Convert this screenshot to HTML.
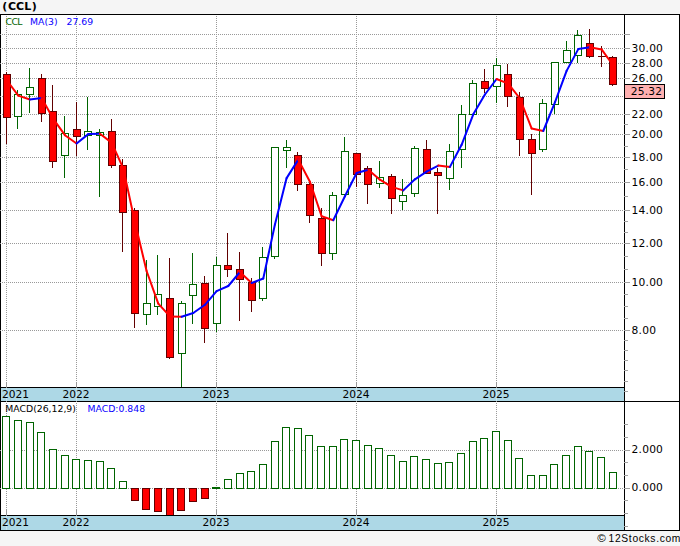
<!DOCTYPE html>
<html><head><meta charset="utf-8"><title>CCL</title><style>html,body{margin:0;padding:0;background:#f5f5f5}body{width:680px;height:546px;overflow:hidden}</style></head><body>
<svg width="680" height="546" viewBox="0 0 680 546" style="display:block">
<rect x="0" y="0" width="680" height="546" fill="#f5f5f5"/>
<g shape-rendering="crispEdges">
<rect x="0" y="14" width="680" height="517" fill="#000"/>
<rect x="1" y="15" width="678" height="515" fill="#fff"/>
<rect x="1" y="387" width="624" height="15" fill="#000"/>
<rect x="1" y="388" width="623" height="13" fill="#add8e6"/>
<rect x="1" y="401" width="678" height="1" fill="#000"/>
<rect x="1" y="515" width="624" height="15" fill="#000"/>
<rect x="1" y="516" width="623" height="14" fill="#add8e6"/>
<rect x="624" y="15" width="1" height="515" fill="#000"/>
<line x1="0" y1="34.5" x2="624" y2="34.5" stroke="#999" stroke-width="1" stroke-dasharray="1 1"/>
<line x1="0" y1="48.5" x2="624" y2="48.5" stroke="#999" stroke-width="1" stroke-dasharray="1 1"/>
<line x1="0" y1="63.5" x2="624" y2="63.5" stroke="#999" stroke-width="1" stroke-dasharray="1 1"/>
<line x1="0" y1="78.5" x2="624" y2="78.5" stroke="#999" stroke-width="1" stroke-dasharray="1 1"/>
<line x1="0" y1="96.5" x2="624" y2="96.5" stroke="#999" stroke-width="1" stroke-dasharray="1 1"/>
<line x1="0" y1="114.5" x2="624" y2="114.5" stroke="#999" stroke-width="1" stroke-dasharray="1 1"/>
<line x1="0" y1="134.5" x2="624" y2="134.5" stroke="#999" stroke-width="1" stroke-dasharray="1 1"/>
<line x1="0" y1="157.5" x2="624" y2="157.5" stroke="#999" stroke-width="1" stroke-dasharray="1 1"/>
<line x1="0" y1="182.5" x2="624" y2="182.5" stroke="#999" stroke-width="1" stroke-dasharray="1 1"/>
<line x1="0" y1="210.5" x2="624" y2="210.5" stroke="#999" stroke-width="1" stroke-dasharray="1 1"/>
<line x1="0" y1="243.5" x2="624" y2="243.5" stroke="#999" stroke-width="1" stroke-dasharray="1 1"/>
<line x1="0" y1="282.5" x2="624" y2="282.5" stroke="#999" stroke-width="1" stroke-dasharray="1 1"/>
<line x1="0" y1="330.5" x2="624" y2="330.5" stroke="#999" stroke-width="1" stroke-dasharray="1 1"/>
<line x1="0" y1="450.5" x2="624" y2="450.5" stroke="#999" stroke-width="1" stroke-dasharray="1 1"/>
<line x1="0" y1="488.5" x2="624" y2="488.5" stroke="#999" stroke-width="1" stroke-dasharray="1 1"/>
<line x1="6.5" y1="16" x2="6.5" y2="387" stroke="#999" stroke-width="1" stroke-dasharray="1 1"/>
<line x1="6.5" y1="401" x2="6.5" y2="510" stroke="#999" stroke-width="1" stroke-dasharray="1 1"/>
<line x1="76.5" y1="16" x2="76.5" y2="387" stroke="#999" stroke-width="1" stroke-dasharray="1 1"/>
<line x1="76.5" y1="401" x2="76.5" y2="510" stroke="#999" stroke-width="1" stroke-dasharray="1 1"/>
<line x1="216.5" y1="16" x2="216.5" y2="387" stroke="#999" stroke-width="1" stroke-dasharray="1 1"/>
<line x1="216.5" y1="401" x2="216.5" y2="510" stroke="#999" stroke-width="1" stroke-dasharray="1 1"/>
<line x1="356.5" y1="16" x2="356.5" y2="387" stroke="#999" stroke-width="1" stroke-dasharray="1 1"/>
<line x1="356.5" y1="401" x2="356.5" y2="510" stroke="#999" stroke-width="1" stroke-dasharray="1 1"/>
<line x1="496.5" y1="16" x2="496.5" y2="387" stroke="#999" stroke-width="1" stroke-dasharray="1 1"/>
<line x1="496.5" y1="401" x2="496.5" y2="510" stroke="#999" stroke-width="1" stroke-dasharray="1 1"/>
<rect x="6" y="388" width="1" height="13" fill="#fff" fill-opacity="0.3"/>
<rect x="6" y="516" width="1" height="14" fill="#fff" fill-opacity="0.3"/>
<rect x="6" y="382" width="1" height="6" fill="#999"/>
<rect x="6" y="510" width="1" height="6" fill="#999"/>
<rect x="76" y="388" width="1" height="13" fill="#fff" fill-opacity="0.3"/>
<rect x="76" y="516" width="1" height="14" fill="#fff" fill-opacity="0.3"/>
<rect x="76" y="382" width="1" height="6" fill="#999"/>
<rect x="76" y="510" width="1" height="6" fill="#999"/>
<rect x="216" y="388" width="1" height="13" fill="#fff" fill-opacity="0.3"/>
<rect x="216" y="516" width="1" height="14" fill="#fff" fill-opacity="0.3"/>
<rect x="216" y="382" width="1" height="6" fill="#999"/>
<rect x="216" y="510" width="1" height="6" fill="#999"/>
<rect x="356" y="388" width="1" height="13" fill="#fff" fill-opacity="0.3"/>
<rect x="356" y="516" width="1" height="14" fill="#fff" fill-opacity="0.3"/>
<rect x="356" y="382" width="1" height="6" fill="#999"/>
<rect x="356" y="510" width="1" height="6" fill="#999"/>
<rect x="496" y="388" width="1" height="13" fill="#fff" fill-opacity="0.3"/>
<rect x="496" y="516" width="1" height="14" fill="#fff" fill-opacity="0.3"/>
<rect x="496" y="382" width="1" height="6" fill="#999"/>
<rect x="496" y="510" width="1" height="6" fill="#999"/>
<rect x="624" y="34" width="6" height="1" fill="#a0a0a0"/>
<rect x="624" y="48" width="6" height="1" fill="#a0a0a0"/>
<rect x="624" y="63" width="6" height="1" fill="#a0a0a0"/>
<rect x="624" y="78" width="6" height="1" fill="#a0a0a0"/>
<rect x="624" y="96" width="6" height="1" fill="#a0a0a0"/>
<rect x="624" y="114" width="6" height="1" fill="#a0a0a0"/>
<rect x="624" y="124" width="4" height="1" fill="#a0a0a0"/>
<rect x="624" y="134" width="6" height="1" fill="#a0a0a0"/>
<rect x="624" y="146" width="4" height="1" fill="#a0a0a0"/>
<rect x="624" y="157" width="6" height="1" fill="#a0a0a0"/>
<rect x="624" y="169" width="4" height="1" fill="#a0a0a0"/>
<rect x="624" y="182" width="6" height="1" fill="#a0a0a0"/>
<rect x="624" y="196" width="4" height="1" fill="#a0a0a0"/>
<rect x="624" y="210" width="6" height="1" fill="#a0a0a0"/>
<rect x="624" y="221" width="4" height="1" fill="#a0a0a0"/>
<rect x="624" y="232" width="4" height="1" fill="#a0a0a0"/>
<rect x="624" y="243" width="6" height="1" fill="#a0a0a0"/>
<rect x="624" y="256" width="4" height="1" fill="#a0a0a0"/>
<rect x="624" y="269" width="4" height="1" fill="#a0a0a0"/>
<rect x="624" y="282" width="6" height="1" fill="#a0a0a0"/>
<rect x="624" y="294" width="4" height="1" fill="#a0a0a0"/>
<rect x="624" y="306" width="4" height="1" fill="#a0a0a0"/>
<rect x="624" y="318" width="4" height="1" fill="#a0a0a0"/>
<rect x="624" y="330" width="6" height="1" fill="#a0a0a0"/>
<rect x="624" y="340" width="4" height="1" fill="#a0a0a0"/>
<rect x="624" y="350" width="4" height="1" fill="#a0a0a0"/>
<rect x="624" y="360" width="4" height="1" fill="#a0a0a0"/>
<rect x="624" y="370" width="4" height="1" fill="#a0a0a0"/>
<rect x="624" y="381" width="4" height="1" fill="#a0a0a0"/>
<rect x="624" y="391" width="4" height="1" fill="#a0a0a0"/>
<rect x="624" y="424" width="4" height="1" fill="#a0a0a0"/>
<rect x="624" y="437" width="4" height="1" fill="#a0a0a0"/>
<rect x="624" y="450" width="6" height="1" fill="#a0a0a0"/>
<rect x="624" y="462" width="4" height="1" fill="#a0a0a0"/>
<rect x="624" y="475" width="4" height="1" fill="#a0a0a0"/>
<rect x="624" y="488" width="6" height="1" fill="#a0a0a0"/>
<rect x="624" y="500" width="4" height="1" fill="#a0a0a0"/>
<rect x="624" y="513" width="4" height="1" fill="#a0a0a0"/>
<rect x="624" y="526" width="4" height="1" fill="#a0a0a0"/>
<rect x="2" y="416" width="8" height="73" fill="#006400"/>
<rect x="3" y="417" width="6" height="71" fill="#fff"/>
<rect x="14" y="420" width="8" height="69" fill="#006400"/>
<rect x="15" y="421" width="6" height="67" fill="#fff"/>
<rect x="26" y="422" width="8" height="67" fill="#006400"/>
<rect x="27" y="423" width="6" height="65" fill="#fff"/>
<rect x="37" y="432" width="8" height="57" fill="#006400"/>
<rect x="38" y="433" width="6" height="55" fill="#fff"/>
<rect x="49" y="449" width="8" height="40" fill="#006400"/>
<rect x="50" y="450" width="6" height="38" fill="#fff"/>
<rect x="61" y="455" width="8" height="34" fill="#006400"/>
<rect x="62" y="456" width="6" height="32" fill="#fff"/>
<rect x="72" y="459" width="8" height="30" fill="#006400"/>
<rect x="73" y="460" width="6" height="28" fill="#fff"/>
<rect x="84" y="460" width="8" height="29" fill="#006400"/>
<rect x="85" y="461" width="6" height="27" fill="#fff"/>
<rect x="96" y="461" width="8" height="28" fill="#006400"/>
<rect x="97" y="462" width="6" height="26" fill="#fff"/>
<rect x="107" y="468" width="8" height="21" fill="#006400"/>
<rect x="108" y="469" width="6" height="19" fill="#fff"/>
<rect x="119" y="481" width="8" height="8" fill="#006400"/>
<rect x="120" y="482" width="6" height="6" fill="#fff"/>
<rect x="131" y="488" width="8" height="13" fill="#620000"/>
<rect x="132" y="489" width="6" height="11" fill="#ff0000"/>
<rect x="142" y="488" width="8" height="22" fill="#620000"/>
<rect x="143" y="489" width="6" height="20" fill="#ff0000"/>
<rect x="154" y="488" width="8" height="24" fill="#620000"/>
<rect x="155" y="489" width="6" height="22" fill="#ff0000"/>
<rect x="166" y="488" width="8" height="27" fill="#620000"/>
<rect x="167" y="489" width="6" height="26" fill="#ff0000"/>
<rect x="177" y="488" width="8" height="23" fill="#620000"/>
<rect x="178" y="489" width="6" height="21" fill="#ff0000"/>
<rect x="189" y="488" width="8" height="14" fill="#620000"/>
<rect x="190" y="489" width="6" height="12" fill="#ff0000"/>
<rect x="201" y="488" width="8" height="11" fill="#620000"/>
<rect x="202" y="489" width="6" height="9" fill="#ff0000"/>
<rect x="212" y="487" width="8" height="2" fill="#006400"/>
<rect x="224" y="479" width="8" height="10" fill="#006400"/>
<rect x="225" y="480" width="6" height="8" fill="#fff"/>
<rect x="236" y="473" width="8" height="16" fill="#006400"/>
<rect x="237" y="474" width="6" height="14" fill="#fff"/>
<rect x="247" y="471" width="8" height="18" fill="#006400"/>
<rect x="248" y="472" width="6" height="16" fill="#fff"/>
<rect x="259" y="464" width="8" height="25" fill="#006400"/>
<rect x="260" y="465" width="6" height="23" fill="#fff"/>
<rect x="271" y="441" width="8" height="48" fill="#006400"/>
<rect x="272" y="442" width="6" height="46" fill="#fff"/>
<rect x="282" y="427" width="8" height="62" fill="#006400"/>
<rect x="283" y="428" width="6" height="60" fill="#fff"/>
<rect x="294" y="428" width="8" height="61" fill="#006400"/>
<rect x="295" y="429" width="6" height="59" fill="#fff"/>
<rect x="305" y="435" width="8" height="54" fill="#006400"/>
<rect x="306" y="436" width="6" height="52" fill="#fff"/>
<rect x="317" y="446" width="8" height="43" fill="#006400"/>
<rect x="318" y="447" width="6" height="41" fill="#fff"/>
<rect x="329" y="446" width="8" height="43" fill="#006400"/>
<rect x="330" y="447" width="6" height="41" fill="#fff"/>
<rect x="340" y="439" width="8" height="50" fill="#006400"/>
<rect x="341" y="440" width="6" height="48" fill="#fff"/>
<rect x="352" y="440" width="8" height="49" fill="#006400"/>
<rect x="353" y="441" width="6" height="47" fill="#fff"/>
<rect x="364" y="445" width="8" height="44" fill="#006400"/>
<rect x="365" y="446" width="6" height="42" fill="#fff"/>
<rect x="375" y="448" width="8" height="41" fill="#006400"/>
<rect x="376" y="449" width="6" height="39" fill="#fff"/>
<rect x="387" y="455" width="8" height="34" fill="#006400"/>
<rect x="388" y="456" width="6" height="32" fill="#fff"/>
<rect x="399" y="461" width="8" height="28" fill="#006400"/>
<rect x="400" y="462" width="6" height="26" fill="#fff"/>
<rect x="410" y="456" width="8" height="33" fill="#006400"/>
<rect x="411" y="457" width="6" height="31" fill="#fff"/>
<rect x="422" y="459" width="8" height="30" fill="#006400"/>
<rect x="423" y="460" width="6" height="28" fill="#fff"/>
<rect x="434" y="463" width="8" height="26" fill="#006400"/>
<rect x="435" y="464" width="6" height="24" fill="#fff"/>
<rect x="445" y="462" width="8" height="27" fill="#006400"/>
<rect x="446" y="463" width="6" height="25" fill="#fff"/>
<rect x="457" y="453" width="8" height="36" fill="#006400"/>
<rect x="458" y="454" width="6" height="34" fill="#fff"/>
<rect x="469" y="441" width="8" height="48" fill="#006400"/>
<rect x="470" y="442" width="6" height="46" fill="#fff"/>
<rect x="480" y="438" width="8" height="51" fill="#006400"/>
<rect x="481" y="439" width="6" height="49" fill="#fff"/>
<rect x="492" y="431" width="8" height="58" fill="#006400"/>
<rect x="493" y="432" width="6" height="56" fill="#fff"/>
<rect x="504" y="440" width="8" height="49" fill="#006400"/>
<rect x="505" y="441" width="6" height="47" fill="#fff"/>
<rect x="515" y="458" width="8" height="31" fill="#006400"/>
<rect x="516" y="459" width="6" height="29" fill="#fff"/>
<rect x="527" y="475" width="8" height="14" fill="#006400"/>
<rect x="528" y="476" width="6" height="12" fill="#fff"/>
<rect x="539" y="475" width="8" height="14" fill="#006400"/>
<rect x="540" y="476" width="6" height="12" fill="#fff"/>
<rect x="550" y="464" width="8" height="25" fill="#006400"/>
<rect x="551" y="465" width="6" height="23" fill="#fff"/>
<rect x="562" y="455" width="8" height="34" fill="#006400"/>
<rect x="563" y="456" width="6" height="32" fill="#fff"/>
<rect x="574" y="446" width="8" height="43" fill="#006400"/>
<rect x="575" y="447" width="6" height="41" fill="#fff"/>
<rect x="585" y="451" width="8" height="38" fill="#006400"/>
<rect x="586" y="452" width="6" height="36" fill="#fff"/>
<rect x="597" y="457" width="8" height="32" fill="#006400"/>
<rect x="598" y="458" width="6" height="30" fill="#fff"/>
<rect x="609" y="472" width="8" height="17" fill="#006400"/>
<rect x="610" y="473" width="6" height="15" fill="#fff"/>
<rect x="6" y="72" width="1" height="72" fill="#620000"/>
<rect x="3" y="74" width="8" height="44" fill="#620000"/>
<rect x="4" y="75" width="6" height="42" fill="#ff0000"/>
<rect x="17" y="90" width="1" height="39" fill="#006400"/>
<rect x="14" y="94" width="8" height="23" fill="#006400"/>
<rect x="15" y="95" width="6" height="21" fill="#fff"/>
<rect x="29" y="68" width="1" height="45" fill="#006400"/>
<rect x="26" y="87" width="8" height="8" fill="#006400"/>
<rect x="27" y="88" width="6" height="6" fill="#fff"/>
<rect x="41" y="74" width="1" height="48" fill="#620000"/>
<rect x="38" y="78" width="8" height="36" fill="#620000"/>
<rect x="39" y="79" width="6" height="34" fill="#ff0000"/>
<rect x="52" y="85" width="1" height="83" fill="#620000"/>
<rect x="49" y="111" width="8" height="51" fill="#620000"/>
<rect x="50" y="112" width="6" height="49" fill="#ff0000"/>
<rect x="64" y="116" width="1" height="62" fill="#006400"/>
<rect x="61" y="133" width="8" height="23" fill="#006400"/>
<rect x="62" y="134" width="6" height="21" fill="#fff"/>
<rect x="76" y="102" width="1" height="54" fill="#620000"/>
<rect x="73" y="129" width="8" height="8" fill="#620000"/>
<rect x="74" y="130" width="6" height="6" fill="#ff0000"/>
<rect x="87" y="97" width="1" height="53" fill="#006400"/>
<rect x="84" y="131" width="8" height="5" fill="#006400"/>
<rect x="85" y="132" width="6" height="3" fill="#fff"/>
<rect x="99" y="129" width="1" height="68" fill="#006400"/>
<rect x="96" y="132" width="8" height="4" fill="#006400"/>
<rect x="97" y="133" width="6" height="2" fill="#fff"/>
<rect x="111" y="119" width="1" height="49" fill="#620000"/>
<rect x="108" y="131" width="8" height="35" fill="#620000"/>
<rect x="109" y="132" width="6" height="33" fill="#ff0000"/>
<rect x="122" y="159" width="1" height="93" fill="#620000"/>
<rect x="119" y="165" width="8" height="48" fill="#620000"/>
<rect x="120" y="166" width="6" height="46" fill="#ff0000"/>
<rect x="134" y="208" width="1" height="120" fill="#620000"/>
<rect x="131" y="210" width="8" height="104" fill="#620000"/>
<rect x="132" y="211" width="6" height="102" fill="#ff0000"/>
<rect x="146" y="260" width="1" height="65" fill="#006400"/>
<rect x="143" y="303" width="8" height="12" fill="#006400"/>
<rect x="144" y="304" width="6" height="10" fill="#fff"/>
<rect x="157" y="255" width="1" height="60" fill="#006400"/>
<rect x="154" y="294" width="8" height="13" fill="#006400"/>
<rect x="155" y="295" width="6" height="11" fill="#fff"/>
<rect x="169" y="258" width="1" height="101" fill="#620000"/>
<rect x="166" y="298" width="8" height="60" fill="#620000"/>
<rect x="167" y="299" width="6" height="58" fill="#ff0000"/>
<rect x="181" y="301" width="1" height="86" fill="#006400"/>
<rect x="178" y="303" width="8" height="51" fill="#006400"/>
<rect x="179" y="304" width="6" height="49" fill="#fff"/>
<rect x="192" y="253" width="1" height="71" fill="#006400"/>
<rect x="189" y="284" width="8" height="12" fill="#006400"/>
<rect x="190" y="285" width="6" height="10" fill="#fff"/>
<rect x="204" y="276" width="1" height="67" fill="#620000"/>
<rect x="201" y="283" width="8" height="46" fill="#620000"/>
<rect x="202" y="284" width="6" height="44" fill="#ff0000"/>
<rect x="216" y="257" width="1" height="75" fill="#006400"/>
<rect x="213" y="265" width="8" height="59" fill="#006400"/>
<rect x="214" y="266" width="6" height="57" fill="#fff"/>
<rect x="227" y="233" width="1" height="44" fill="#620000"/>
<rect x="224" y="265" width="8" height="5" fill="#620000"/>
<rect x="225" y="266" width="6" height="3" fill="#ff0000"/>
<rect x="239" y="252" width="1" height="69" fill="#620000"/>
<rect x="236" y="269" width="8" height="11" fill="#620000"/>
<rect x="237" y="270" width="6" height="9" fill="#ff0000"/>
<rect x="251" y="278" width="1" height="34" fill="#620000"/>
<rect x="248" y="282" width="8" height="19" fill="#620000"/>
<rect x="249" y="283" width="6" height="17" fill="#ff0000"/>
<rect x="262" y="247" width="1" height="54" fill="#006400"/>
<rect x="259" y="257" width="8" height="42" fill="#006400"/>
<rect x="260" y="258" width="6" height="40" fill="#fff"/>
<rect x="274" y="147" width="1" height="112" fill="#006400"/>
<rect x="271" y="147" width="8" height="110" fill="#006400"/>
<rect x="272" y="148" width="6" height="108" fill="#fff"/>
<rect x="286" y="140" width="1" height="28" fill="#006400"/>
<rect x="283" y="147" width="8" height="4" fill="#006400"/>
<rect x="284" y="148" width="6" height="2" fill="#fff"/>
<rect x="297" y="152" width="1" height="39" fill="#620000"/>
<rect x="294" y="155" width="8" height="30" fill="#620000"/>
<rect x="295" y="156" width="6" height="28" fill="#ff0000"/>
<rect x="309" y="183" width="1" height="40" fill="#620000"/>
<rect x="306" y="184" width="8" height="32" fill="#620000"/>
<rect x="307" y="185" width="6" height="30" fill="#ff0000"/>
<rect x="321" y="208" width="1" height="58" fill="#620000"/>
<rect x="318" y="218" width="8" height="36" fill="#620000"/>
<rect x="319" y="219" width="6" height="34" fill="#ff0000"/>
<rect x="332" y="192" width="1" height="68" fill="#006400"/>
<rect x="329" y="195" width="8" height="59" fill="#006400"/>
<rect x="330" y="196" width="6" height="57" fill="#fff"/>
<rect x="344" y="137" width="1" height="57" fill="#006400"/>
<rect x="341" y="151" width="8" height="44" fill="#006400"/>
<rect x="342" y="152" width="6" height="42" fill="#fff"/>
<rect x="356" y="153" width="1" height="34" fill="#620000"/>
<rect x="353" y="153" width="8" height="22" fill="#620000"/>
<rect x="354" y="154" width="6" height="20" fill="#ff0000"/>
<rect x="367" y="166" width="1" height="38" fill="#620000"/>
<rect x="364" y="168" width="8" height="17" fill="#620000"/>
<rect x="365" y="169" width="6" height="15" fill="#ff0000"/>
<rect x="379" y="161" width="1" height="27" fill="#006400"/>
<rect x="376" y="177" width="8" height="7" fill="#006400"/>
<rect x="377" y="178" width="6" height="5" fill="#fff"/>
<rect x="391" y="174" width="1" height="40" fill="#620000"/>
<rect x="388" y="176" width="8" height="23" fill="#620000"/>
<rect x="389" y="177" width="6" height="21" fill="#ff0000"/>
<rect x="402" y="179" width="1" height="31" fill="#006400"/>
<rect x="399" y="195" width="8" height="7" fill="#006400"/>
<rect x="400" y="196" width="6" height="5" fill="#fff"/>
<rect x="414" y="146" width="1" height="51" fill="#006400"/>
<rect x="411" y="148" width="8" height="46" fill="#006400"/>
<rect x="412" y="149" width="6" height="44" fill="#fff"/>
<rect x="426" y="140" width="1" height="34" fill="#620000"/>
<rect x="423" y="149" width="8" height="25" fill="#620000"/>
<rect x="424" y="150" width="6" height="23" fill="#ff0000"/>
<rect x="437" y="168" width="1" height="46" fill="#620000"/>
<rect x="434" y="172" width="8" height="4" fill="#620000"/>
<rect x="435" y="173" width="6" height="2" fill="#ff0000"/>
<rect x="449" y="144" width="1" height="46" fill="#006400"/>
<rect x="446" y="151" width="8" height="28" fill="#006400"/>
<rect x="447" y="152" width="6" height="26" fill="#fff"/>
<rect x="461" y="105" width="1" height="63" fill="#006400"/>
<rect x="458" y="114" width="8" height="36" fill="#006400"/>
<rect x="459" y="115" width="6" height="34" fill="#fff"/>
<rect x="472" y="80" width="1" height="34" fill="#006400"/>
<rect x="469" y="83" width="8" height="32" fill="#006400"/>
<rect x="470" y="84" width="6" height="30" fill="#fff"/>
<rect x="484" y="69" width="1" height="24" fill="#620000"/>
<rect x="481" y="81" width="8" height="8" fill="#620000"/>
<rect x="482" y="82" width="6" height="6" fill="#ff0000"/>
<rect x="496" y="58" width="1" height="45" fill="#006400"/>
<rect x="493" y="65" width="8" height="22" fill="#006400"/>
<rect x="494" y="66" width="6" height="20" fill="#fff"/>
<rect x="507" y="64" width="1" height="43" fill="#620000"/>
<rect x="504" y="74" width="8" height="23" fill="#620000"/>
<rect x="505" y="75" width="6" height="21" fill="#ff0000"/>
<rect x="519" y="92" width="1" height="64" fill="#620000"/>
<rect x="516" y="97" width="8" height="43" fill="#620000"/>
<rect x="517" y="98" width="6" height="41" fill="#ff0000"/>
<rect x="531" y="134" width="1" height="61" fill="#620000"/>
<rect x="528" y="139" width="8" height="15" fill="#620000"/>
<rect x="529" y="140" width="6" height="13" fill="#ff0000"/>
<rect x="542" y="99" width="1" height="53" fill="#006400"/>
<rect x="539" y="103" width="8" height="47" fill="#006400"/>
<rect x="540" y="104" width="6" height="45" fill="#fff"/>
<rect x="554" y="62" width="1" height="52" fill="#006400"/>
<rect x="551" y="62" width="8" height="43" fill="#006400"/>
<rect x="552" y="63" width="6" height="41" fill="#fff"/>
<rect x="566" y="41" width="1" height="21" fill="#006400"/>
<rect x="563" y="50" width="8" height="13" fill="#006400"/>
<rect x="564" y="51" width="6" height="11" fill="#fff"/>
<rect x="577" y="30" width="1" height="33" fill="#006400"/>
<rect x="574" y="35" width="8" height="21" fill="#006400"/>
<rect x="575" y="36" width="6" height="19" fill="#fff"/>
<rect x="589" y="29" width="1" height="29" fill="#620000"/>
<rect x="586" y="43" width="8" height="14" fill="#620000"/>
<rect x="587" y="44" width="6" height="12" fill="#ff0000"/>
<rect x="601" y="46" width="1" height="21" fill="#620000"/>
<rect x="598" y="56" width="8" height="1" fill="#620000"/>
<rect x="612" y="56" width="1" height="30" fill="#620000"/>
<rect x="609" y="57" width="8" height="28" fill="#620000"/>
<rect x="610" y="58" width="6" height="26" fill="#ff0000"/>
</g>
<g fill="none" stroke-width="2" stroke-linecap="round" stroke-linejoin="round">
<line x1="6.6" y1="80" x2="18.27" y2="95.6" stroke="#ff0000"/>
<line x1="18.27" y1="95.6" x2="29.93" y2="99.5" stroke="#ff0000"/>
<line x1="29.93" y1="99.5" x2="41.6" y2="98.1" stroke="#0000ff"/>
<line x1="41.6" y1="98.1" x2="53.27" y2="118.8" stroke="#ff0000"/>
<line x1="53.27" y1="118.8" x2="64.93" y2="135.2" stroke="#ff0000"/>
<line x1="64.93" y1="135.2" x2="76.6" y2="143.5" stroke="#ff0000"/>
<line x1="76.6" y1="143.5" x2="88.27" y2="134.1" stroke="#0000ff"/>
<line x1="88.27" y1="134.1" x2="99.93" y2="133.7" stroke="#0000ff"/>
<line x1="99.93" y1="133.7" x2="111.6" y2="142.6" stroke="#ff0000"/>
<line x1="111.6" y1="142.6" x2="123.27" y2="168.4" stroke="#ff0000"/>
<line x1="123.27" y1="168.4" x2="134.93" y2="222.3" stroke="#ff0000"/>
<line x1="134.93" y1="222.3" x2="146.6" y2="271.0" stroke="#ff0000"/>
<line x1="146.6" y1="271.0" x2="158.27" y2="303.6" stroke="#ff0000"/>
<line x1="158.27" y1="303.6" x2="169.93" y2="316.4" stroke="#ff0000"/>
<line x1="169.93" y1="316.4" x2="181.6" y2="316.7" stroke="#ff0000"/>
<line x1="181.6" y1="316.7" x2="193.27" y2="313.0" stroke="#0000ff"/>
<line x1="193.27" y1="313.0" x2="204.93" y2="304.8" stroke="#0000ff"/>
<line x1="204.93" y1="304.8" x2="216.6" y2="291.1" stroke="#0000ff"/>
<line x1="216.6" y1="291.1" x2="228.27" y2="286.0" stroke="#0000ff"/>
<line x1="228.27" y1="286.0" x2="239.93" y2="272.0" stroke="#0000ff"/>
<line x1="239.93" y1="272.0" x2="251.6" y2="283.0" stroke="#ff0000"/>
<line x1="251.6" y1="283.0" x2="263.27" y2="278.5" stroke="#0000ff"/>
<line x1="263.27" y1="278.5" x2="274.93" y2="224.5" stroke="#0000ff"/>
<line x1="274.93" y1="224.5" x2="286.6" y2="178.1" stroke="#0000ff"/>
<line x1="286.6" y1="178.1" x2="298.27" y2="159.6" stroke="#0000ff"/>
<line x1="298.27" y1="159.6" x2="309.93" y2="181.7" stroke="#ff0000"/>
<line x1="309.93" y1="181.7" x2="321.6" y2="216.3" stroke="#ff0000"/>
<line x1="321.6" y1="216.3" x2="333.27" y2="220.2" stroke="#ff0000"/>
<line x1="333.27" y1="220.2" x2="344.93" y2="196.3" stroke="#0000ff"/>
<line x1="344.93" y1="196.3" x2="356.6" y2="173.0" stroke="#0000ff"/>
<line x1="356.6" y1="173.0" x2="368.27" y2="169.7" stroke="#0000ff"/>
<line x1="368.27" y1="169.7" x2="379.93" y2="179.7" stroke="#ff0000"/>
<line x1="379.93" y1="179.7" x2="391.6" y2="186.9" stroke="#ff0000"/>
<line x1="391.6" y1="186.9" x2="403.27" y2="190.4" stroke="#ff0000"/>
<line x1="403.27" y1="190.4" x2="414.93" y2="179.3" stroke="#0000ff"/>
<line x1="414.93" y1="179.3" x2="426.6" y2="171.6" stroke="#0000ff"/>
<line x1="426.6" y1="171.6" x2="438.27" y2="165.6" stroke="#0000ff"/>
<line x1="438.27" y1="165.6" x2="449.93" y2="166.9" stroke="#ff0000"/>
<line x1="449.93" y1="166.9" x2="461.6" y2="144.8" stroke="#0000ff"/>
<line x1="461.6" y1="144.8" x2="473.27" y2="114.3" stroke="#0000ff"/>
<line x1="473.27" y1="114.3" x2="484.93" y2="94.5" stroke="#0000ff"/>
<line x1="484.93" y1="94.5" x2="496.6" y2="79.0" stroke="#0000ff"/>
<line x1="496.6" y1="79.0" x2="508.27" y2="83.6" stroke="#ff0000"/>
<line x1="508.27" y1="83.6" x2="519.93" y2="98.5" stroke="#ff0000"/>
<line x1="519.93" y1="98.5" x2="531.6" y2="128.4" stroke="#ff0000"/>
<line x1="531.6" y1="128.4" x2="543.27" y2="131.0" stroke="#ff0000"/>
<line x1="543.27" y1="131.0" x2="554.93" y2="102.3" stroke="#0000ff"/>
<line x1="554.93" y1="102.3" x2="566.6" y2="70.9" stroke="#0000ff"/>
<line x1="566.6" y1="70.9" x2="578.27" y2="49.1" stroke="#0000ff"/>
<line x1="578.27" y1="49.1" x2="589.94" y2="47.2" stroke="#0000ff"/>
<line x1="589.94" y1="47.2" x2="601.6" y2="49.4" stroke="#ff0000"/>
<line x1="601.6" y1="49.4" x2="613.27" y2="65.5" stroke="#ff0000"/>
</g>
<g shape-rendering="crispEdges"><rect x="624" y="84" width="41" height="15" fill="#000"/><rect x="625" y="85" width="39" height="13" fill="#ffb0b0"/></g>
<text x="2.2" y="10.4" font-family="DejaVu Sans, Liberation Sans, sans-serif" font-size="11" font-weight="bold" fill="#000">(<tspan dx="0.8">CCL</tspan><tspan dx="0.6">)</tspan></text>
<g font-family="DejaVu Sans, Liberation Sans, sans-serif" font-size="9.3">
<text x="5.5" y="25.3" fill="#006400" letter-spacing="-0.6">CCL</text>
<text x="30" y="25.3" fill="#0a00ff">MA(3)</text>
<text x="66.5" y="25.3" fill="#0a00ff">27.69</text>
<text x="5.3" y="412" fill="#000">MACD(26,12,9)</text>
<text x="87.5" y="412" fill="#0a00ff">MACD:0.848</text>
</g>
<g font-family="DejaVu Sans, Liberation Sans, sans-serif" font-size="10.67" fill="#000" letter-spacing="0.2">
<text x="631.6" y="52.4">30.00</text>
<text x="631.6" y="67.4">28.00</text>
<text x="631.6" y="82.4">26.00</text>
<text x="631.6" y="118.4">22.00</text>
<text x="631.6" y="138.4">20.00</text>
<text x="631.6" y="161.4">18.00</text>
<text x="631.6" y="186.4">16.00</text>
<text x="631.6" y="214.4">14.00</text>
<text x="631.6" y="247.4">12.00</text>
<text x="631.6" y="286.4">10.00</text>
<text x="631.6" y="333.5">8.00</text>
<text x="631.6" y="453.2">2.000</text>
<text x="631.6" y="491.2">0.000</text>
<text x="630.7" y="95">25.32</text>
<text x="2" y="398" letter-spacing="0">2021</text>
<text x="2" y="526" letter-spacing="0">2021</text>
<text x="76" y="398" text-anchor="middle" letter-spacing="0">2022</text>
<text x="76" y="526" text-anchor="middle" letter-spacing="0">2022</text>
<text x="216" y="398" text-anchor="middle" letter-spacing="0">2023</text>
<text x="216" y="526" text-anchor="middle" letter-spacing="0">2023</text>
<text x="356" y="398" text-anchor="middle" letter-spacing="0">2024</text>
<text x="356" y="526" text-anchor="middle" letter-spacing="0">2024</text>
<text x="496" y="398" text-anchor="middle" letter-spacing="0">2025</text>
<text x="496" y="526" text-anchor="middle" letter-spacing="0">2025</text>
</g>
<text y="542.2" font-family="Liberation Sans, sans-serif" fill="#000"><tspan x="597.2" font-size="11.6">©</tspan><tspan x="608.6" font-size="10.3" letter-spacing="0.65">12Stocks.com</tspan></text>
</svg>
</body></html>
